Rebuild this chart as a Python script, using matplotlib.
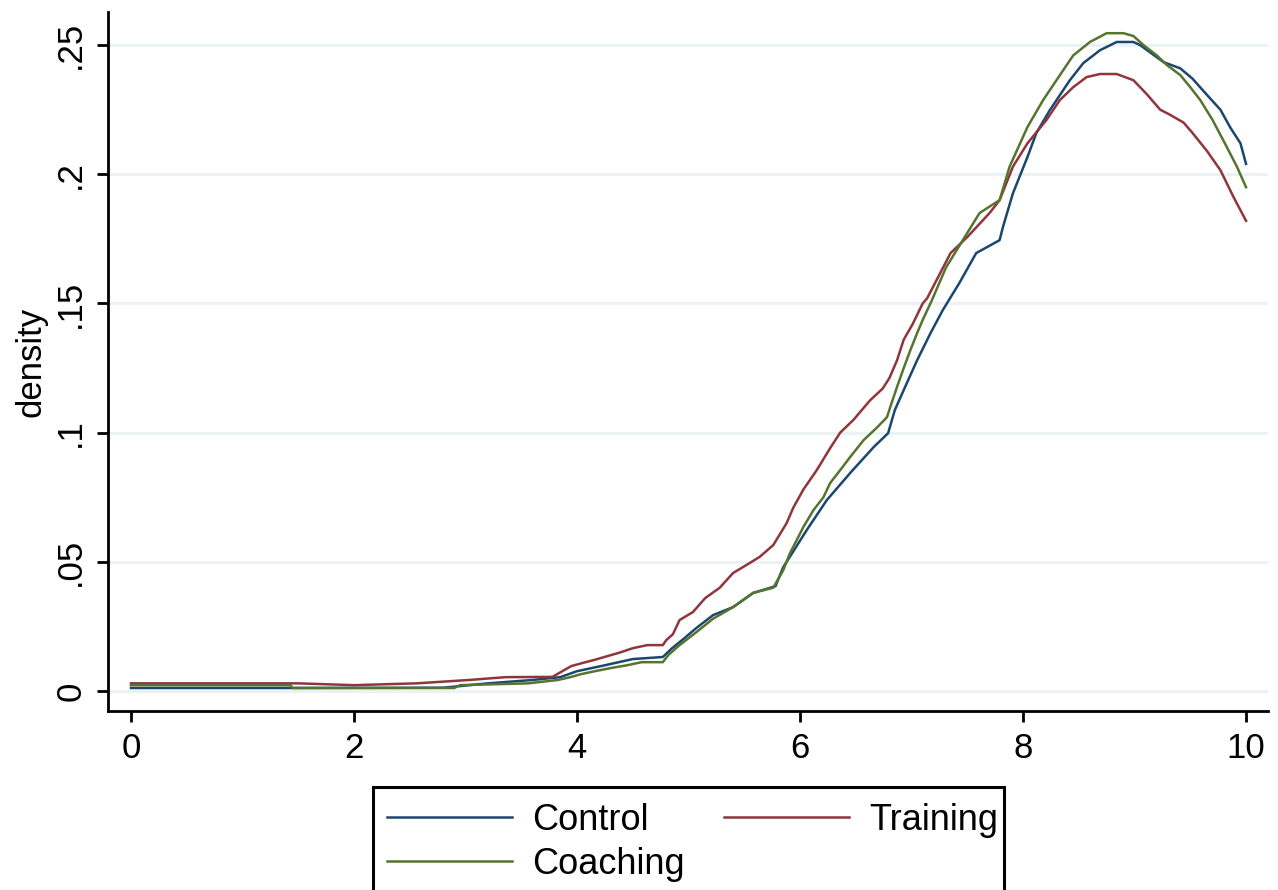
import matplotlib
matplotlib.use("Agg")
import matplotlib.pyplot as plt
from matplotlib.patches import Rectangle

plt.rcParams['font.family'] = ['Liberation Sans', 'DejaVu Sans']

# density curves
control_x = [0, 1.4, 2.8, 3.2, 3.6, 3.85, 4.0, 4.25, 4.5, 4.77, 4.85, 4.95, 5.07, 5.22,
             5.4, 5.58, 5.78, 5.85, 5.93, 6.06, 6.24, 6.45, 6.66, 6.79, 6.85, 6.93, 7.05,
             7.17, 7.28, 7.43, 7.58, 7.79, 7.82, 7.91, 8.04, 8.12, 8.24, 8.42, 8.54, 8.69,
             8.84, 8.99, 9.05, 9.26, 9.41, 9.52, 9.65, 9.77, 9.86, 9.95, 10.0]
control_y = [0.0012, 0.0012, 0.0013, 0.003, 0.0043, 0.0054, 0.0077, 0.010, 0.0124, 0.0132,
             0.0165, 0.020, 0.0244, 0.0294, 0.0325, 0.038, 0.0406, 0.048, 0.0534, 0.0623,
             0.0739, 0.0844, 0.0944, 0.0998, 0.1087, 0.1165, 0.128, 0.1385, 0.1474, 0.158,
             0.1695, 0.1745, 0.1796, 0.1927, 0.2067, 0.216, 0.2248, 0.2364, 0.243, 0.248,
             0.2512, 0.2512, 0.250, 0.2434, 0.241, 0.237, 0.2307, 0.225, 0.218, 0.212, 0.204]

training_x = [0, 1.5, 2.0, 2.56, 3.03, 3.36, 3.78, 3.88, 3.95, 4.06, 4.15, 4.27, 4.39, 4.5,
              4.63, 4.77, 4.8, 4.86, 4.92, 5.04, 5.15, 5.28, 5.4, 5.52, 5.64, 5.76, 5.88,
              5.94, 6.03, 6.15, 6.27, 6.36, 6.48, 6.63, 6.74, 6.8, 6.87, 6.93, 7.01, 7.1,
              7.14, 7.35, 7.5, 7.7, 7.79, 7.91, 8.04, 8.21, 8.33, 8.45, 8.57, 8.69, 8.84,
              8.99, 9.11, 9.23, 9.32, 9.44, 9.52, 9.65, 9.77, 9.89, 10.0]
training_y = [0.003, 0.003, 0.0023, 0.003, 0.0043, 0.0054, 0.0055, 0.008, 0.0097, 0.011,
              0.012, 0.0135, 0.015, 0.0166, 0.0178, 0.0178, 0.0197, 0.022, 0.0275, 0.0306,
              0.036, 0.040, 0.0457, 0.0488, 0.052, 0.0565, 0.065, 0.071, 0.078, 0.0855,
              0.094, 0.100, 0.105, 0.1126, 0.117, 0.121, 0.128, 0.136, 0.142, 0.150, 0.152,
              0.1695, 0.1757, 0.185, 0.190, 0.203, 0.212, 0.221, 0.2287, 0.2337, 0.2376,
              0.2388, 0.2388, 0.2364, 0.231, 0.225, 0.223, 0.220, 0.216, 0.209, 0.2016,
              0.191, 0.182]

coaching_x = [0, 1.43, 1.45, 2.9, 2.95, 3.56, 3.83, 3.94, 4.04, 4.16, 4.3, 4.45, 4.58, 4.77,
              4.82, 4.92, 5.07, 5.22, 5.4, 5.58, 5.76, 5.85, 5.91, 5.97, 6.03, 6.12, 6.21,
              6.27, 6.36, 6.45, 6.57, 6.69, 6.78, 6.81, 6.87, 6.93, 6.99, 7.05, 7.1, 7.18,
              7.31, 7.46, 7.61, 7.79, 7.88, 8.04, 8.18, 8.3, 8.45, 8.6, 8.75, 8.9, 8.99,
              9.08, 9.2, 9.29, 9.41, 9.5, 9.59, 9.7, 9.81, 9.92, 10.0]
coaching_y = [0.0023, 0.0023, 0.0012, 0.0012, 0.0023, 0.003, 0.0043, 0.0054, 0.0066, 0.0077,
              0.0089, 0.010, 0.0112, 0.0112, 0.014, 0.0178, 0.0228, 0.028, 0.0325, 0.038,
              0.040, 0.0468, 0.0534, 0.0584, 0.0635, 0.070, 0.075, 0.0805, 0.0855, 0.0906,
              0.0971, 0.102, 0.106, 0.110, 0.1177, 0.125, 0.132, 0.1385, 0.1436, 0.151,
              0.164, 0.1745, 0.185, 0.190, 0.203, 0.2183, 0.2287, 0.2364, 0.246, 0.2512,
              0.2546, 0.2546, 0.2535, 0.250, 0.246, 0.2423, 0.2384, 0.2337, 0.2287, 0.221,
              0.212, 0.2028, 0.195]

x_ticks = [0, 2, 4, 6, 8, 10]
y_ticks = [0, 0.05, 0.1, 0.15, 0.2, 0.25]
y_ticklabels = ['0', '.05', '.1', '.15', '.2', '.25']

W, H = 1278, 890
fig = plt.figure(figsize=(W / 100, H / 100), dpi=100)
ax = fig.add_axes([108 / W, 1 - 711 / H, 1160 / W, 699 / H])

l1, = ax.plot(control_x, control_y, color='#1A476F', lw=1.8, label='Control')
l2, = ax.plot(training_x, training_y, color='#90353B', lw=1.8, label='Training')
l3, = ax.plot(coaching_x, coaching_y, color='#55752F', lw=1.8, label='Coaching')

ax.set_xlim(-0.206, 10.197)
ax.set_ylim(-0.0077, 0.2628)
ax.set_xticks(x_ticks)
ax.set_yticks(y_ticks)
ax.set_yticklabels(y_ticklabels, rotation=90, va='center')
ax.tick_params(axis='both', labelsize=25, length=8, width=2, direction='out', pad=7)
ax.grid(axis='y', color='#EAF2F3', lw=2.2)
ax.set_axisbelow(True)
for s in ['top', 'right']:
    ax.spines[s].set_visible(False)
for s in ['left', 'bottom']:
    ax.spines[s].set_linewidth(2)

ax.set_ylabel('density', fontsize=25)
ax.yaxis.set_label_coords(-0.052, 0.5)

# legend box runs off the bottom of the image, as in the reference
fig.patches.append(Rectangle((373 / W, -0.05), (1004 - 373) / W, 0.05 + 1 - 787 / H,
                             transform=fig.transFigure, fill=False,
                             edgecolor='black', lw=2.2))
leg = fig.legend(handles=[l1, l3, l2], ncol=2, fontsize=26, frameon=False,
                 loc='upper left', bbox_to_anchor=(387 / W, 1 - 803 / H),
                 handlelength=3.45, handletextpad=0.58, columnspacing=1.08,
                 labelspacing=0.25, borderpad=0, borderaxespad=0)

fig.savefig('out.png', dpi=100)
